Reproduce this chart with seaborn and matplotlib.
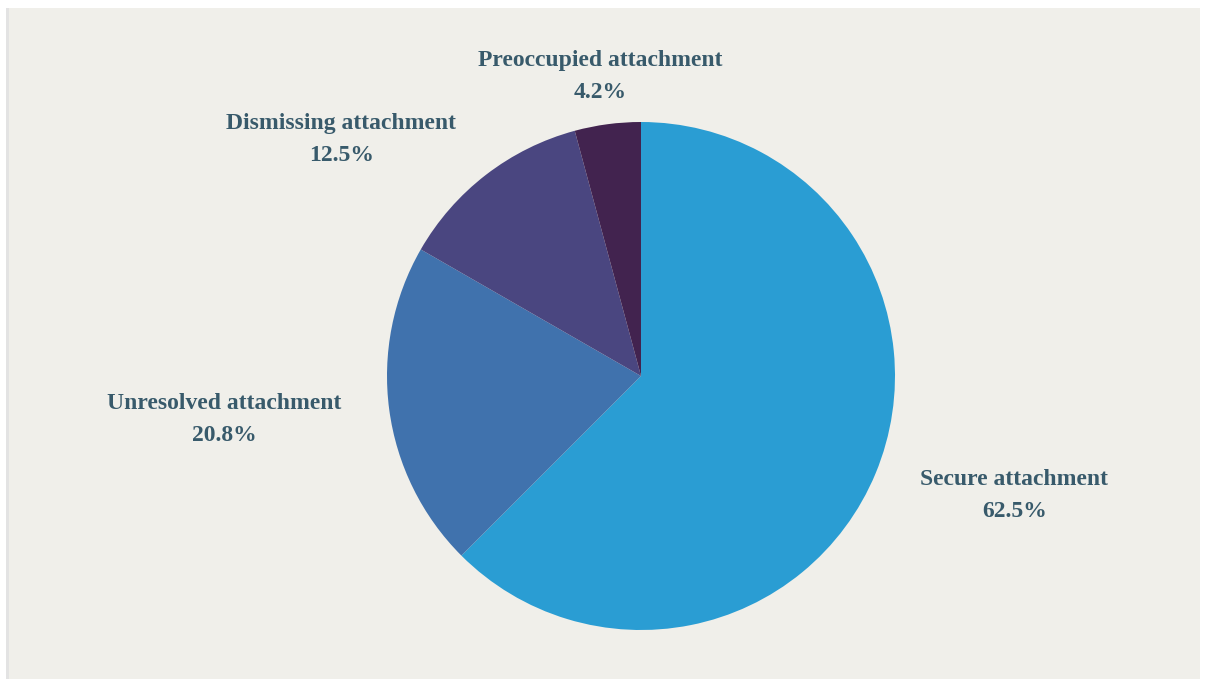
import matplotlib
matplotlib.use("Agg")
import matplotlib.pyplot as plt
import seaborn as sns

# Data
categories = ["Secure attachment", "Unresolved attachment",
              "Dismissing attachment", "Preoccupied attachment"]
shares = [62.5, 20.8, 12.5, 4.2]
colors = ["#2a9dd3", "#4072ad", "#4a4680", "#42234f"]

# label anchor points relative to pie centre (radius units)
label_pos = [(1.47, -0.47), (-1.64, -0.17), (-1.18, 0.93), (-0.16, 1.18)]

sns.set_theme(style="white")
plt.rcParams["font.family"] = ["Liberation Serif", "DejaVu Serif"]

W, H = 1209, 679
fig = plt.figure(figsize=(W / 100, H / 100), dpi=100)
fig.patch.set_facecolor("white")

# panel background + left strip (behind the axes)
fig.patches.append(plt.Rectangle((6 / W, 0), 3 / W, (H - 8) / H, transform=fig.transFigure,
                                 facecolor="#e3e3e3", edgecolor="none", zorder=-1))
fig.patches.append(plt.Rectangle((9 / W, 0), 1191 / W, (H - 8) / H, transform=fig.transFigure,
                                 facecolor="#f0efea", edgecolor="none", zorder=-1))

cx, cy, R = 641, 376, 254
ax = fig.add_axes([(cx - R) / W, (H - cy - R) / H, 2 * R / W, 2 * R / H])
ax.set_facecolor("none")

ax.pie(shares, colors=colors, startangle=90, counterclock=False,
       wedgeprops=dict(linewidth=0))
ax.set_xlim(-1, 1)
ax.set_ylim(-1, 1)
ax.set_aspect("equal")
ax.axis("off")

for name, val, (lx, ly) in zip(categories, shares, label_pos):
    ax.text(lx, ly, f"{name}\n{val}%", ha="center", va="center",
            fontsize=17, fontweight="bold", color="#385a6b",
            linespacing=1.7, clip_on=False)

fig.savefig("out.png", dpi=100, facecolor=fig.get_facecolor())
